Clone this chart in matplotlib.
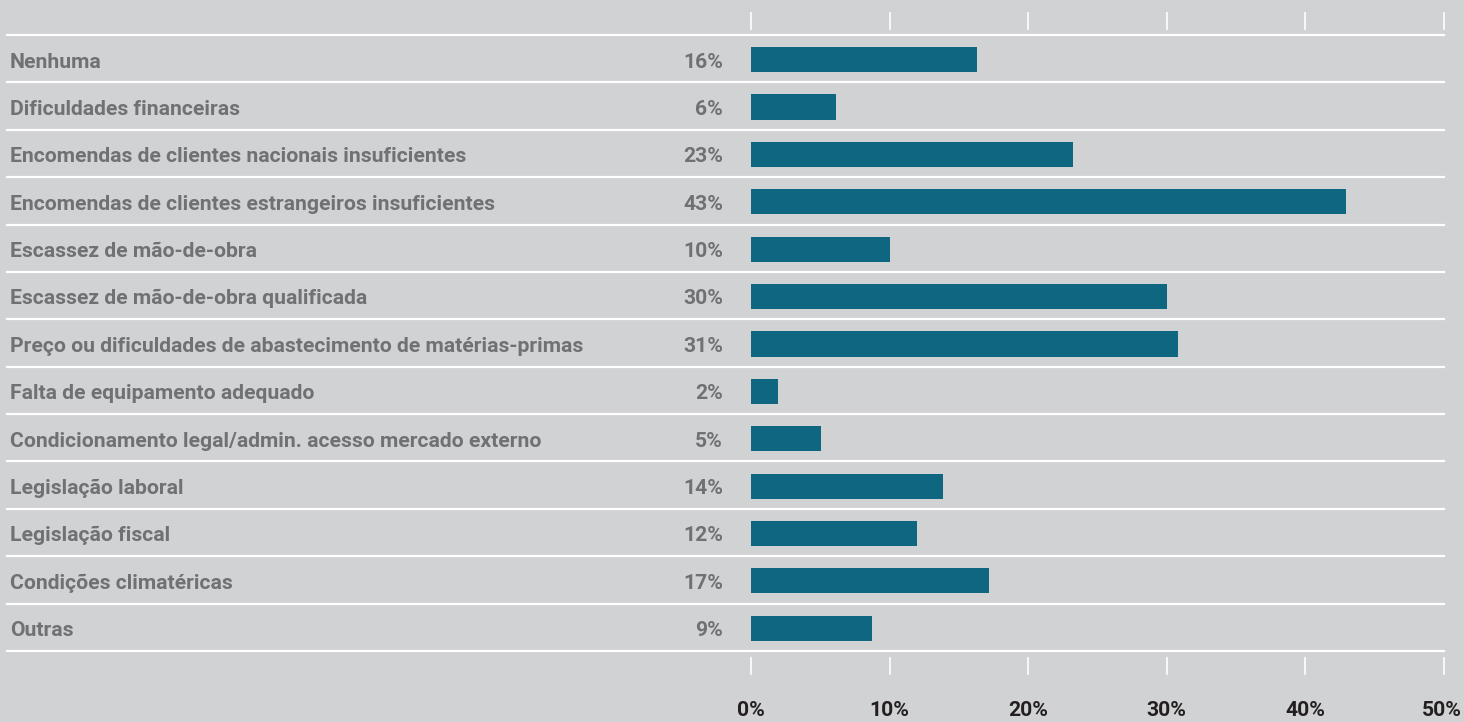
import matplotlib
matplotlib.use("Agg")
import matplotlib.pyplot as plt
import matplotlib.transforms as mtransforms

categories = [
    "Nenhuma",
    "Dificuldades financeiras",
    "Encomendas de clientes nacionais insuficientes",
    "Encomendas de clientes estrangeiros insuficientes",
    "Escassez de mão-de-obra",
    "Escassez de mão-de-obra qualificada",
    "Preço ou dificuldades de abastecimento de matérias-primas",
    "Falta de equipamento adequado",
    "Condicionamento legal/admin. acesso mercado externo",
    "Legislação laboral",
    "Legislação fiscal",
    "Condições climatéricas",
    "Outras",
]
values = [16.3, 6.1, 23.2, 42.9, 10.0, 30.0, 30.8, 1.95, 5.05, 13.85, 12.0, 17.2, 8.7]
value_labels = ["16%", "6%", "23%", "43%", "10%", "30%", "31%", "2%", "5%", "14%", "12%", "17%", "9%"]
xticks = [0, 10, 20, 30, 40, 50]
xtick_labels = ["0%", "10%", "20%", "30%", "40%", "50%"]

BG = "#d1d2d4"
BAR = "#0f6680"
LABEL = "#707173"
TICKLBL = "#231f20"
FONT = ["Roboto", "DejaVu Sans"]

W, H = 1464, 722
fig = plt.figure(figsize=(W / 100, H / 100), dpi=100, facecolor=BG)
x0, x1 = 751, 1444
y0, y1 = 35, 651
ax = fig.add_axes([x0 / W, 1 - y1 / H, (x1 - x0) / W, (y1 - y0) / H])
ax.set_facecolor(BG)
n = len(categories)
ax.set_xlim(0, 50)
ax.set_ylim(n - 0.5, -0.5)
for s in ax.spines.values():
    s.set_visible(False)
ax.set_xticks([])
ax.set_yticks([])

ypos = list(range(n))
ax.barh([p + 0.02 for p in ypos], values, height=0.53, color=BAR, zorder=3)

# separator lines
xmin_ext = -(x0 - 7) / (x1 - x0)
for k in range(n + 1):
    ax.axhline(k - 0.5, xmin=xmin_ext, xmax=1.0, color="white", lw=1.6, clip_on=False, zorder=2)

trans_lbl = mtransforms.blended_transform_factory(fig.transFigure, ax.transData)
for i, (c, vl) in enumerate(zip(categories, value_labels)):
    ax.text(10 / W, i + 0.07, c, transform=trans_lbl, ha="left", va="center",
            fontsize=15.2, fontweight="bold", color=LABEL, family=FONT)
    ax.text(723 / W, i + 0.07, vl, transform=trans_lbl, ha="right", va="center",
            fontsize=15.2, fontweight="bold", color=LABEL, family=FONT)

# tick marks top and bottom
trans_tick = mtransforms.blended_transform_factory(ax.transData, fig.transFigure)
for t in xticks:
    ax.plot([t, t], [1 - 13 / H, 1 - 29 / H], transform=trans_tick, color="white", lw=1.2, clip_on=False)
    ax.plot([t, t], [1 - 658 / H, 1 - 674 / H], transform=trans_tick, color="white", lw=1.2, clip_on=False)
for i, (t, tl) in enumerate(zip(xticks, xtick_labels)):
    ha = "right" if i == len(xticks) - 1 else "center"
    xt = t + 1.3 if i == len(xticks) - 1 else t
    ax.text(xt, 1 - 711 / H, tl, transform=trans_tick, ha=ha, va="center",
            fontsize=15.2, fontweight="bold", color=TICKLBL, family=FONT, clip_on=False)

fig.savefig("out.png", dpi=100, facecolor=BG)
